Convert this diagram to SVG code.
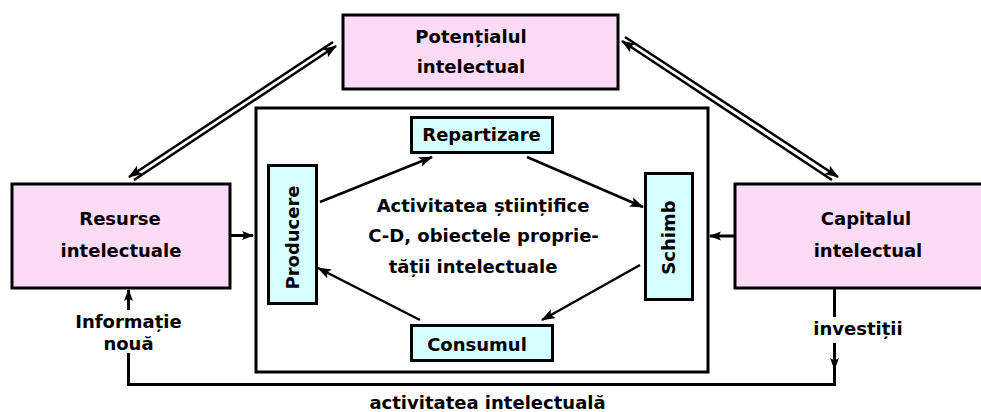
<svg xmlns="http://www.w3.org/2000/svg" width="981" height="412" viewBox="0 0 981 412">
<style>
.pink{fill:#FDDBF6;stroke:#000;stroke-width:3}
.cyan{fill:#D6FFFF;stroke:#000;stroke-width:3}
.frame{fill:none;stroke:#000;stroke-width:3}
.t{font-family:"DejaVu Sans",Verdana,sans-serif;font-weight:bold;font-size:18px;fill:#000;text-anchor:middle}
.c{fill:none;stroke:#000}
.w2{stroke-width:2.5}
.w3{stroke-width:3}
</style>
<defs>
<marker id="ah" markerUnits="userSpaceOnUse" markerWidth="14" markerHeight="10" refX="13" refY="5" orient="auto">
<path d="M0,0 L14,5 L0,10 L3,5 Z" fill="#000"/>
</marker>
<marker id="ahs" markerUnits="userSpaceOnUse" markerWidth="12" markerHeight="10" refX="11" refY="5" orient="auto">
<path d="M0,0.5 L12,5 L0,9.5 L2.5,5 Z" fill="#000"/>
</marker>
</defs>

<g id="frame">
<rect class="frame" x="256" y="108" width="452" height="264"/>
</g>

<g id="potential">
<rect class="pink" x="343" y="15" width="275" height="74"/>
<text class="t" x="471" y="43">Potențialul</text>
<text class="t" x="471" y="73">intelectual</text>
</g>

<g id="resurse">
<rect class="pink" x="12" y="184" width="218" height="104"/>
<text class="t" x="120" y="225">Resurse</text>
<text class="t" x="121" y="257">intelectuale</text>
</g>

<g id="capitalul">
<rect class="pink" x="735" y="184" width="252" height="104"/>
<text class="t" x="866" y="225">Capitalul</text>
<text class="t" x="868" y="257">intelectual</text>
</g>

<g id="producere">
<rect class="cyan" x="268.5" y="165.5" width="48" height="138"/>
<text class="t" transform="translate(299,237.5) rotate(-90)" x="0" y="0">Producere</text>
</g>

<g id="repartizare">
<rect class="cyan" x="411.5" y="117.5" width="141" height="35"/>
<text class="t" x="481.5" y="141">Repartizare</text>
</g>

<g id="schimb">
<rect class="cyan" x="645.5" y="173.5" width="47" height="126"/>
<text class="t" transform="translate(675,237.5) rotate(-90)" x="0" y="0">Schimb</text>
</g>

<g id="consumul">
<rect class="cyan" x="411.5" y="325.5" width="141" height="35"/>
<text class="t" x="477" y="351">Consumul</text>
</g>

<g id="center-text">
<text class="t" x="483" y="212">Activitatea științifice</text>
<text class="t" x="483.5" y="242">C-D, obiectele proprie-</text>
<text class="t" x="473" y="273">tății intelectuale</text>
</g>

<g id="connectors">
<line class="c w2" x1="320" y1="202" x2="432" y2="157" marker-end="url(#ah)"/>
<line class="c w2" x1="527" y1="157" x2="643" y2="207" marker-end="url(#ah)"/>
<line class="c w2" x1="640" y1="265" x2="542" y2="320" marker-end="url(#ah)"/>
<line class="c w2" x1="420" y1="320" x2="318" y2="268" marker-end="url(#ah)"/>
<line class="c w2" x1="333" y1="42" x2="129" y2="177" marker-end="url(#ah)"/>
<line class="c w2" x1="134" y1="180" x2="336" y2="46" marker-end="url(#ah)"/>
<line class="c w2" x1="625" y1="37" x2="838" y2="177" marker-end="url(#ah)"/>
<line class="c w2" x1="832" y1="180" x2="622" y2="41" marker-end="url(#ah)"/>
<line class="c w3" x1="230" y1="235.5" x2="253" y2="235.5" marker-end="url(#ahs)"/>
<line class="c w3" x1="735" y1="236" x2="710" y2="236" marker-end="url(#ahs)"/>
<line class="c w3" x1="834.5" y1="288" x2="834.5" y2="317"/>
<polyline class="c w3" points="834.5,343 834.5,384.5 128.5,384.5 128.5,353"/>
<line class="c w3" x1="834.5" y1="343" x2="834.5" y2="369" marker-end="url(#ahs)"/>
<line class="c w3" x1="128.5" y1="310" x2="128.5" y2="290" marker-end="url(#ahs)"/>
</g>

<g id="labels">
<text class="t" x="128.5" y="328">Informație</text>
<text class="t" x="128.5" y="350">nouă</text>
<text class="t" x="858" y="335">investiții</text>
<text class="t" x="487.5" y="409">activitatea intelectuală</text>
</g>
</svg>
